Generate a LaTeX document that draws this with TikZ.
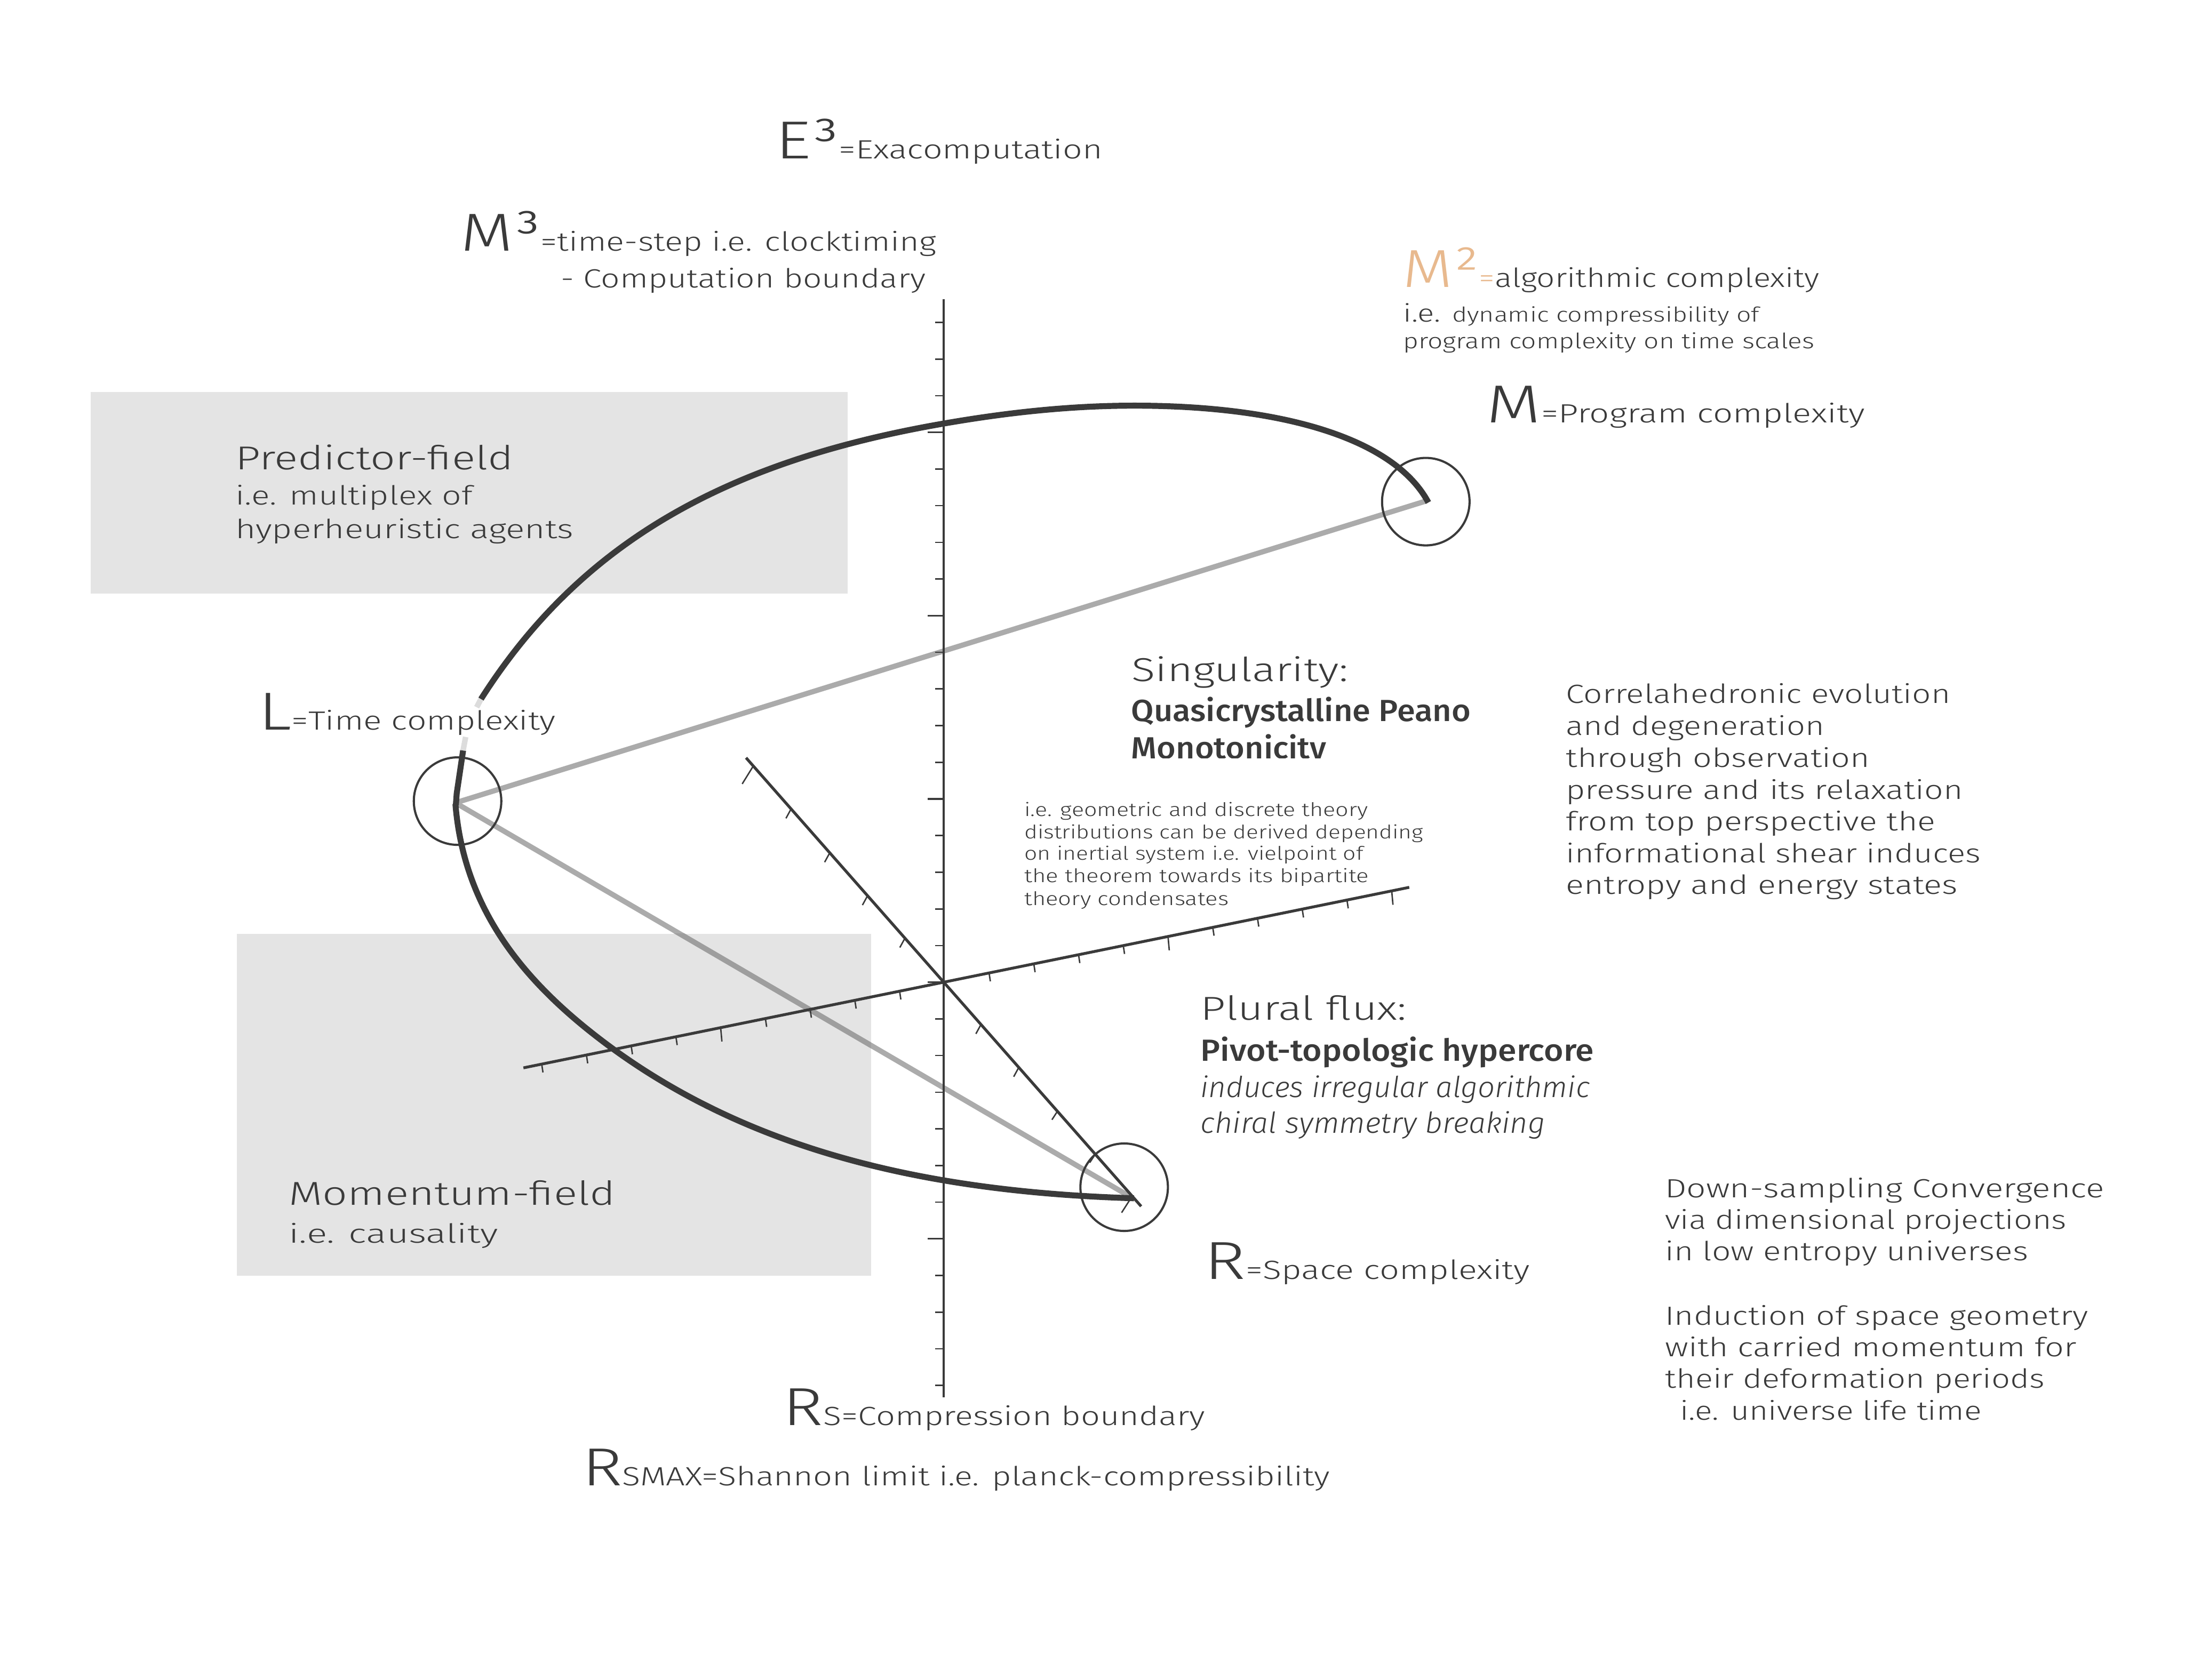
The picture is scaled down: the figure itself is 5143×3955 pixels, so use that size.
\documentclass[tikz,border=0pt]{standalone}
\usepackage{fontspec}
\usepackage{graphicx}
\setmainfont{Fira Sans}[UprightFont=* Light,BoldFont=* Medium,ItalicFont=* Light Italic]
\definecolor{ink}{HTML}{3A3A3A}
\definecolor{panel}{HTML}{E4E4E4}
\definecolor{spoke}{HTML}{ABABAB}
\definecolor{spokedark}{HTML}{9E9E9E}
\definecolor{peach}{HTML}{E8B98E}
\definecolor{fade}{HTML}{DCDCDC}
\newlength{\pxu}\setlength{\pxu}{0.02cm}
\newcommand{\fpx}[1]{\pgfmathsetmacro{\fpxv}{#1*0.56906}\fontsize{\fpxv}{\fpxv}\selectfont}
\newcommand{\wfit}[2]{\resizebox{#1\pxu}{\height}{#2}}
\newcommand{\bigsym}[1]{{\fpx{126}#1}}
\newcommand{\midt}[1]{{\fpx{62}#1}}
\tikzset{
  lab/.style={anchor=base west,inner sep=0pt,outer sep=0pt,text=ink},
  ring/.style={circle,draw=ink,line width=2.9pt,minimum size=4.12cm,inner sep=0pt,fill=none},
  field/.style={fill=panel,draw=none},
  spokeline/.style={draw=spoke,line width=7pt},
  spokeshade/.style={draw=spokedark,line width=7pt},
  arc/.style={draw=ink,line width=8pt},
  fadearc/.style={draw=fade,line width=7.4pt},
  axis/.style={draw=ink,line width=3.8pt},
  vaxis/.style={draw=ink,line width=3pt},
  tickmark/.style={draw=ink,line width=1.9pt}
}
\begin{document}
\begin{tikzpicture}[x=0.02cm,y=-0.02cm]
\useasboundingbox (0,0) rectangle (5143,3955);
\fill[white] (0,0) rectangle (5143,3955);
% panels
\path[field] (214,923) rectangle (1995,1397);
\path[field] (558,2198) rectangle (2050,3003);
% named points
\coordinate (ptM) at (3358,1179);
\coordinate (ptL) at (1072,1890);
\coordinate (ptR) at (2658,2816);
\coordinate (vtop) at (2221,704);
\coordinate (vbot) at (2221,3290);
\coordinate (risel) at (1232,2514);
\coordinate (riser) at (3317,2089);
\coordinate (falla) at (1756,1784);
\coordinate (fallb) at (2686,2840);
% spokes
\draw[spokeline] (ptL) -- (ptM);
\draw[spokeline] (ptL) -- (ptR);
\begin{scope}
\clip (558,2198) rectangle (2050,3003);
\draw[spokeshade] (ptL) -- (ptR);
\end{scope}
% heavy curves
\draw[arc] (3362,1183) .. controls (3282,1033) and (3020,955) .. (2670,955)
  .. controls (2520,955) and (2372,971) .. (2222,997)
  .. controls (1700,1087) and (1363,1283) .. (1132,1646);
\draw[fadearc] (1132,1646) -- (1122,1665);
\draw[fadearc] (1096,1735) -- (1090,1767);
\draw[arc] (1090,1767) -- (1075,1868) -- (1073,1895);
\draw[arc] (1072,1893) .. controls (1093,2153) and (1247,2326) .. (1441,2468)
  .. controls (1765,2704) and (2169,2806) .. (2669,2821);
% axes
\draw[vaxis] (vtop) -- (vbot);
\draw[axis] (risel) -- (riser);
\draw[axis] (falla) -- (fallb);
\foreach \k in {0,...,29}{
  \pgfmathsetmacro{\ty}{759+86.3*\k}
  \draw[tickmark] (2221,\ty) -- (2201,\ty);
}
\foreach \k in {3,8,13,18,25}{
  \pgfmathsetmacro{\ty}{759+86.3*\k}
  \draw[tickmark,line width=2.4pt] (2221,\ty) -- (2184,\ty);
}
\foreach \k/\l in {0/20,1/20,2/20,3/20,4/33,5/20,6/20,7/20,8/20,10/20,11/20,12/20,13/20,14/33,15/20,16/20,17/20,18/20,19/33}{
  \pgfmathsetmacro{\tx}{1275+105.3*\k}
  \pgfmathsetmacro{\ty}{2312-(\tx-2221)*0.2038}
  \draw[tickmark] (\tx,\ty) -- ++(3,\l);
}
\foreach \tx/\dx/\dy in {1773/-26/42,1862/-12/22,1953/-12/22,2042/-12/22,2130/-12/22,2309/-12/22,2398/-12/22,2489/-13/20,2578/-13/20,2665/-25/39}{
  \pgfmathsetmacro{\ty}{2312+(\tx-2221)*1.135}
  \draw[tickmark] (\tx,\ty) -- ++(\dx,\dy);
}
% rings
\node[ring] (ringM) at (3356,1181) {};
\node[ring] (ringL) at (1077,1886) {};
\node[ring] (ringR) at (2646,2795) {};
% labels
\begin{scope}[shift={(-3,3)}]
\node[lab] (tE) at (1828,371) {\wfit{770}{\bigsym{E³}\midt{=Exacomputation}}};
\node[lab] (tMc) at (1087,588) {\wfit{1120}{\bigsym{M³}\midt{=time-step i.e. clocktiming}}};
\node[lab] (tCb) at (1323,674) {\wfit{859}{\midt{- Computation boundary}}};
\node[lab] (tMs) at (3305,673) {\wfit{981}{\textcolor{peach}{\bigsym{M²}\midt{=}}\midt{algorithmic complexity}}};
\node[lab] (tDy) at (3306,755) {\wfit{838}{{\fpx{58}i.e. }{\fpx{48}dynamic compressibility of}}};
\node[lab] (tPr) at (3306,817) {\wfit{968}{{\fpx{50}program complexity on time scales}}};
\node[lab] (tMp) at (3502,992) {\wfit{890}{\bigsym{M}\midt{=Program complexity}}};
\node[lab] (tPf) at (557,1103) {\wfit{654}{{\fpx{78}Predictor-field}}};
\node[lab] (tMu) at (557,1186) {\wfit{558}{\midt{i.e. multiplex of}}};
\node[lab] (tHy) at (557,1265) {\wfit{796}{\midt{hyperheuristic agents}}};
\node[lab] (tLt) at (611,1715) {\wfit{700}{\bigsym{L}\midt{=Time complexity}}};
\node[lab] (tSi) at (2667,1601) {\wfit{509}{{\fpx{78}Singularity:}}};
\node[lab] (tQu) at (2666,1695) {\wfit{799}{{\fpx{72}\bfseries Quasicrystalline Peano}}};
\begin{scope}
\clip (2600,1700) rectangle (3300,1782);
\node[lab] (tMo) at (2666,1783) {\wfit{459}{{\fpx{72}\bfseries Monotonicity}}};
\end{scope}
\node[lab] (tG1) at (2414,1919) {\wfit{809}{{\fpx{44}i.e. geometric and discrete theory}}};
\node[lab] (tG2) at (2414,1971) {\wfit{939}{{\fpx{44}distributions can be derived depending}}};
\node[lab] (tG3) at (2414,2022) {\wfit{798}{{\fpx{44}on inertial system i.e. vielpoint of}}};
\node[lab] (tG4) at (2414,2075) {\wfit{811}{{\fpx{44}the theorem towards its bipartite}}};
\node[lab] (tG5) at (2414,2128) {\wfit{481}{{\fpx{44}theory condensates}}};
\node[lab] (tC1) at (3689,1653) {\wfit{905}{\midt{Correlahedronic evolution}}};
\node[lab] (tC2) at (3689,1728) {\wfit{608}{\midt{and degeneration}}};
\node[lab] (tC3) at (3689,1803) {\wfit{715}{\midt{through observation}}};
\node[lab] (tC4) at (3689,1878) {\wfit{934}{\midt{pressure and its relaxation}}};
\node[lab] (tC5) at (3689,1953) {\wfit{870}{\midt{from top perspective the}}};
\node[lab] (tC6) at (3689,2028) {\wfit{976}{\midt{informational shear induces}}};
\node[lab] (tC7) at (3689,2102) {\wfit{922}{\midt{entropy and energy states}}};
\node[lab] (tPl) at (2829,2398) {\wfit{485}{{\fpx{78}Plural flux:}}};
\node[lab] (tPv) at (2829,2495) {\wfit{926}{{\fpx{72}\bfseries Pivot-topologic hypercore}}};
\node[lab] (tIn) at (2829,2580) {\wfit{916}{{\fpx{68}\itshape induces irregular algorithmic}}};
\node[lab] (tCh) at (2829,2665) {\wfit{811}{{\fpx{68}\itshape chiral symmetry breaking}}};
\node[lab] (tMf) at (683,2834) {\wfit{768}{{\fpx{78}Momentum-field}}};
\node[lab] (tCa) at (683,2923) {\wfit{492}{\midt{i.e. causality}}};
\node[lab] (tRs) at (2838,3008) {\wfit{766}{\bigsym{R}\midt{=Space complexity}}};
\node[lab] (tD1) at (3922,2816) {\wfit{1034}{\midt{Down-sampling Convergence}}};
\node[lab] (tD2) at (3922,2890) {\wfit{945}{\midt{via dimensional projections}}};
\node[lab] (tD3) at (3922,2965) {\wfit{855}{\midt{in low entropy universes}}};
\node[lab] (tI1) at (3922,3116) {\wfit{996}{\midt{Induction of space geometry}}};
\node[lab] (tI2) at (3922,3191) {\wfit{969}{\midt{with carried momentum for}}};
\node[lab] (tI3) at (3922,3265) {\wfit{894}{\midt{their deformation periods}}};
\node[lab] (tI4) at (3957,3340) {\wfit{710}{\midt{i.e. universe life time}}};
\node[lab] (tCo) at (1846,3352) {\wfit{994}{\bigsym{R}\midt{S=Compression boundary}}};
\node[lab] (tSh) at (1373,3495) {\wfit{1760}{\bigsym{R}\midt{SMAX=Shannon limit i.e. planck-compressibility}}};
\end{scope}
\end{tikzpicture}
\end{document}
